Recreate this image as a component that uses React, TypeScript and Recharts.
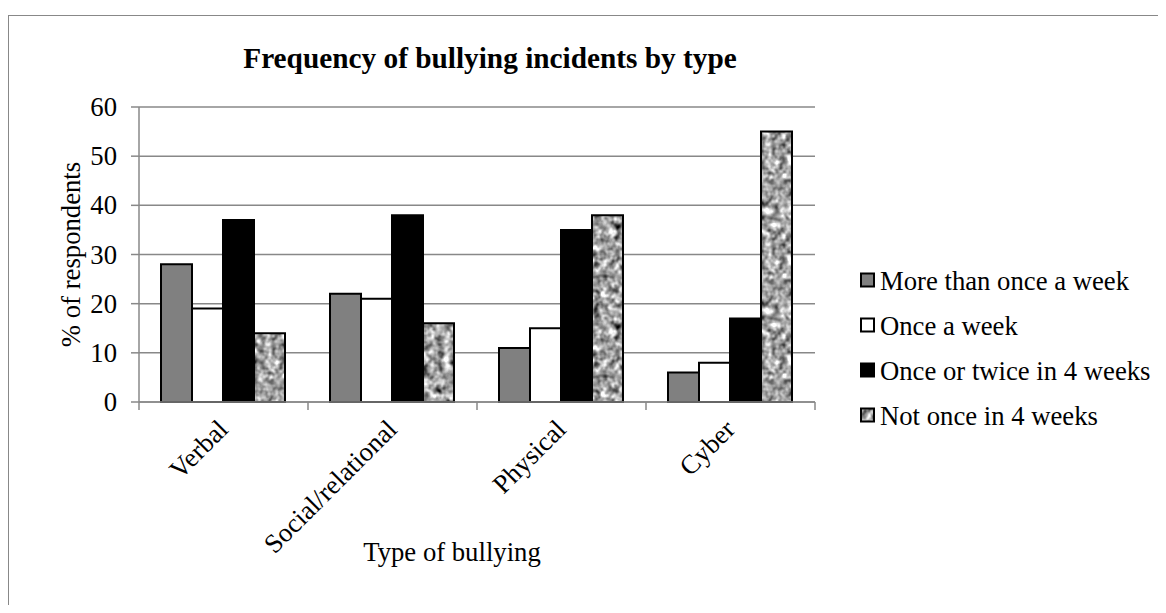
import { Bar, BarChart, CartesianGrid, Label, Legend, XAxis, YAxis } from 'recharts';

const categories = ['Verbal', 'Social/relational', 'Physical', 'Cyber'];
const moreThanOnceAWeek = [28, 22, 11, 6];
const onceAWeek = [19, 21, 15, 8];
const onceOrTwiceIn4Weeks = [37, 38, 35, 17];
const notOnceIn4Weeks = [14, 16, 38, 55];
const yTicks = [0, 10, 20, 30, 40, 50, 60];

const series = [
  { key: 'more', name: 'More than once a week', values: moreThanOnceAWeek, fill: '#808080' },
  { key: 'once', name: 'Once a week', values: onceAWeek, fill: '#ffffff' },
  { key: 'twice', name: 'Once or twice in 4 weeks', values: onceOrTwiceIn4Weeks, fill: '#000000' },
  { key: 'never', name: 'Not once in 4 weeks', values: notOnceIn4Weeks, fill: 'url(#texture)' },
];

const data = categories.map((type, i) => {
  const row: Record<string, string | number> = { type };
  series.forEach((s) => {
    row[s.key] = s.values[i];
  });
  return row;
});

const FONT = '"Liberation Serif", "Times New Roman", serif';
const FONT_SIZE = 26.7;
const AXIS_GRAY = '#888888';

const CHART_W = 1150;
const CHART_H = 597;
const MARGIN = { top: 99, right: 343, bottom: 53, left: 71 };
const Y_AXIS_W = 60;
const PLOT_W = CHART_W - MARGIN.left - Y_AXIS_W - MARGIN.right;
const BAND = PLOT_W / categories.length;

const CategoryTick = (props: any) => {
  const { x, y, payload, index } = props;
  const tx = x + 6;
  const ty = y + 29;
  return (
    <g>
      <line x1={x - BAND / 2} x2={x - BAND / 2} y1={y} y2={y + 8} stroke={AXIS_GRAY} strokeWidth={1.5} />
      {index === categories.length - 1 && (
        <line x1={x + BAND / 2} x2={x + BAND / 2} y1={y} y2={y + 8} stroke={AXIS_GRAY} strokeWidth={1.5} />
      )}
      <text
        x={tx}
        y={ty}
        textAnchor="end"
        transform={`rotate(-45 ${tx} ${ty})`}
        fontFamily={FONT}
        fontSize={FONT_SIZE}
        fill="#000"
      >
        {payload.value}
      </text>
    </g>
  );
};

const ValueTick = (props: any) => {
  const { x, y, payload } = props;
  return (
    <text x={x} y={y} dy="0.34em" textAnchor="end" fontFamily={FONT} fontSize={FONT_SIZE} fill="#000">
      {payload.value}
    </text>
  );
};

const YTitle = (props: any) => {
  const { viewBox } = props;
  const x = viewBox.x + 1;
  const y = viewBox.y + viewBox.height / 2;
  return (
    <text
      x={x}
      y={y}
      textAnchor="middle"
      transform={`rotate(-90 ${x} ${y})`}
      fontFamily={FONT}
      fontSize={FONT_SIZE}
      fill="#000"
    >
      % of respondents
    </text>
  );
};

const XTitle = (props: any) => {
  const { viewBox } = props;
  const x = viewBox.x + viewBox.width / 2 - 25;
  return (
    <text x={x} y={viewBox.y + 159} textAnchor="middle" fontFamily={FONT} fontSize={FONT_SIZE} fill="#000">
      Type of bullying
    </text>
  );
};

// legend drawn from the series list so the order stays as in the chart
const LegendContent = () => (
  <svg width={300} height={180} style={{ display: 'block' }}>
    {series.map((s, i) => {
      const cy = 22.5 + i * 45;
      return (
        <g key={s.key}>
          <rect x={1} y={cy - 7} width={13} height={13} fill={s.fill} stroke="#000" strokeWidth={2} />
          <text x={20} y={cy + 9} fontFamily={FONT} fontSize={FONT_SIZE} fill="#000">
            {s.name}
          </text>
        </g>
      );
    })}
  </svg>
);

export default function App() {
  return (
    <div style={{ position: 'relative', width: CHART_W, height: CHART_H, fontFamily: FONT }}>
      <svg width={0} height={0} style={{ position: 'absolute' }}>
        <defs>
          <filter
            id="grain"
            filterUnits="userSpaceOnUse"
            x={0}
            y={0}
            width={100}
            height={100}
            colorInterpolationFilters="sRGB"
          >
            <feTurbulence
              type="fractalNoise"
              baseFrequency="0.14"
              numOctaves="2"
              seed="7"
              stitchTiles="stitch"
              result="noise"
            />
            <feColorMatrix
              in="noise"
              type="matrix"
              values="0.33 0.33 0.33 0 0  0.33 0.33 0.33 0 0  0.33 0.33 0.33 0 0  0 0 0 0 1"
              result="gray"
            />
            <feComponentTransfer in="gray">
              <feFuncR type="linear" slope="2.5" intercept="-0.6" />
              <feFuncG type="linear" slope="2.5" intercept="-0.6" />
              <feFuncB type="linear" slope="2.5" intercept="-0.6" />
            </feComponentTransfer>
          </filter>
          <pattern id="texture" patternUnits="userSpaceOnUse" width={100} height={100}>
            <rect width={100} height={100} fill="#a8a8a8" filter="url(#grain)" />
          </pattern>
        </defs>
      </svg>
      <div
        style={{
          position: 'absolute',
          left: 0,
          top: 7,
          width: CHART_W + 20,
          height: CHART_H + 20,
          borderTop: `1.5px solid ${AXIS_GRAY}`,
          borderLeft: `1.5px solid ${AXIS_GRAY}`,
          boxSizing: 'border-box',
        }}
      />
      <div
        style={{
          position: 'absolute',
          left: 182,
          top: 35,
          width: 600,
          textAlign: 'center',
          fontFamily: FONT,
          fontWeight: 'bold',
          fontSize: 29.3,
          lineHeight: '30px',
          color: '#000',
        }}
      >
        Frequency of bullying incidents by type
      </div>
      <div style={{ position: 'absolute', left: 0, top: 0 }}>
        <BarChart width={CHART_W} height={CHART_H} data={data} margin={MARGIN} barCategoryGap={22} barGap={0}>
          <CartesianGrid vertical={false} stroke={AXIS_GRAY} strokeWidth={1.5} />
          <XAxis
            dataKey="type"
            height={150}
            interval={0}
            tick={<CategoryTick />}
            tickLine={false}
            tickSize={0}
            tickMargin={0}
            axisLine={{ stroke: AXIS_GRAY, strokeWidth: 1.5 }}
          >
            <Label content={<XTitle />} />
          </XAxis>
          <YAxis
            width={Y_AXIS_W}
            domain={[0, 60]}
            ticks={yTicks}
            interval={0}
            tickSize={8}
            tickMargin={14}
            tickLine={{ stroke: AXIS_GRAY, strokeWidth: 1.5 }}
            axisLine={{ stroke: AXIS_GRAY, strokeWidth: 1.5 }}
            tick={<ValueTick />}
          >
            <Label content={<YTitle />} />
          </YAxis>
          <Legend
            layout="vertical"
            align="center"
            verticalAlign="middle"
            content={<LegendContent />}
            wrapperStyle={{ left: 852, top: 250, width: 300 }}
          />
          {series.map((s) => (
            <Bar
              key={s.key}
              dataKey={s.key}
              name={s.name}
              fill={s.fill}
              stroke="#000"
              strokeWidth={2}
              isAnimationActive={false}
            />
          ))}
        </BarChart>
      </div>
    </div>
  );
}
